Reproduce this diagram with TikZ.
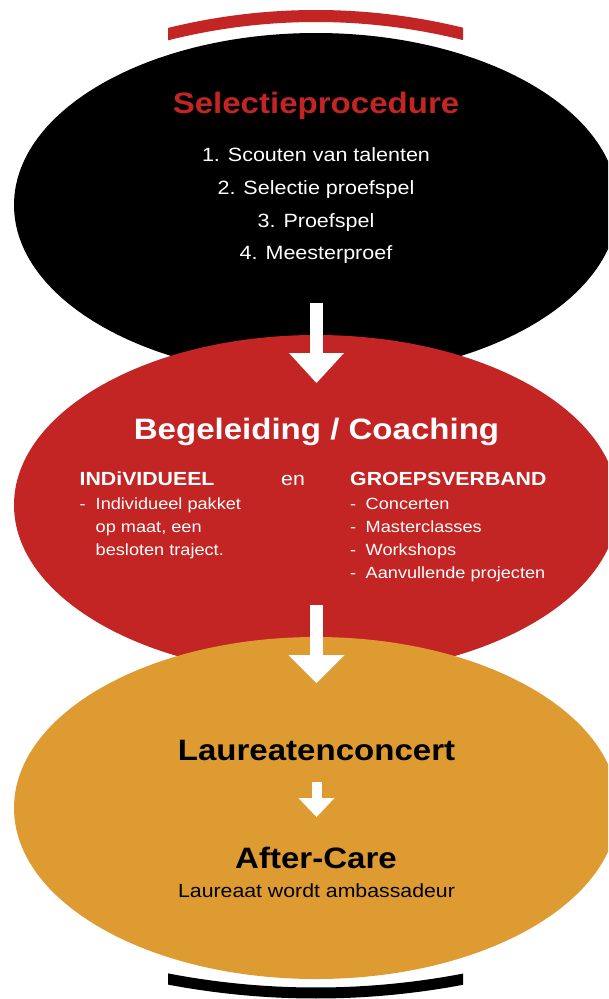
\documentclass[tikz,border=0pt]{standalone}
\usepackage{fontspec}
\setmainfont[FakeStretch=1.12]{Liberation Sans}
\usepackage{xcolor}
\usepackage{tikz}
\usetikzlibrary{shapes.geometric,arrows.meta}

\definecolor{rood}{RGB}{194,37,36}
\definecolor{oranje}{RGB}{222,155,49}

\tikzset{
	ovaal/.style={ellipse, inner sep=0pt, minimum width=604pt, minimum height=344pt},
	blokpijl/.style={white, line width=13pt, -{Triangle[width=55pt,length=30pt,line width=0pt]}},
	kleinpijl/.style={white, line width=10pt, -{Triangle[width=36pt,length=19pt,line width=0pt]}},
	kop/.style={anchor=base, inner sep=0pt, font=\fontsize{29.5}{35}\selectfont\bfseries},
	regel/.style={anchor=base, inner sep=0pt, font=\fontsize{19.2}{23}\selectfont},
	sub/.style={anchor=base west, inner sep=0pt, white, font=\fontsize{19}{23}\selectfont\bfseries},
	lijst/.style={anchor=base west, inner sep=0pt, white, font=\fontsize{16.2}{23.3}\selectfont}
}

\begin{document}
\begin{tikzpicture}[x=1pt,y=-1pt]
		\useasboundingbox (0,0) rectangle (608,999);
		\clip (0,0) rectangle (608,999);
		%
		\node[ovaal, fill=black] (selectie) at (316,205) {};
		\node[ovaal, fill=rood, minimum height=340pt] (begeleiding) at (316,505) {};
		\node[ovaal, fill=oranje, minimum height=342pt] (laureaat) at (316,808) {};
		%
		\begin{scope}
			\clip (168,0) rectangle (463,999);
			\draw[rood, line width=12pt] (316,629) ++(250:613) arc[start angle=250, end angle=290, radius=613];
			\draw[black, line width=11pt] (316,204) ++(75:789) arc[start angle=75, end angle=105, radius=789];
		\end{scope}
		%
		\coordinate (p1a) at (316.5,303);
		\coordinate (p1b) at (316.5,383);
		\coordinate (p2a) at (316.5,605);
		\coordinate (p2b) at (316.5,683);
		\coordinate (p3a) at (316.5,782);
		\coordinate (p3b) at (316.5,817);
		\draw[blokpijl] (p1a) -- (p1b);
		\draw[blokpijl, -{Triangle[width=56pt,length=28pt,line width=0pt]}] (p2a) -- (p2b);
		\draw[kleinpijl] (p3a) -- (p3b);
		%
		\node[kop, rood] (titel) at (316,113) {Selectieprocedure};
		\node[regel, white] (stap1) at (316,161) {1. Scouten van talenten};
		\node[regel, white] (stap2) at (316,194) {2. Selectie proefspel};
		\node[regel, white] (stap3) at (316,227) {3. Proefspel};
		\node[regel, white] (stap4) at (316,259) {4. Meesterproef};
		%
		\node[kop, white] (coaching) at (316.5,439) {Begeleiding / Coaching};
		\node[sub] (individueel) at (79.5,485) {INDiVIDUEEL};
		\node[sub, font=\fontsize{19}{23}\selectfont] (en) at (281,485) {en};
		\node[sub] (groep) at (350,485) {GROEPSVERBAND};
		\node[lijst] (lijstlinks) at (79.5,509) {\begin{tabular}[t]{@{}l@{\hspace{10pt}}l@{}}
			- & Individueel pakket\\
			  & op maat, een\\
			  & besloten traject.
		\end{tabular}};
		\node[lijst] (lijstrechts) at (350,509) {\begin{tabular}[t]{@{}l@{\hspace{9.5pt}}l@{}}
			- & Concerten\\
			- & Masterclasses\\
			- & Workshops\\
			- & Aanvullende projecten
		\end{tabular}};
		%
		\node[kop, black] (concert) at (316.5,760) {Laureatenconcert};
		\node[kop, black] (aftercare) at (316,868) {After-Care};
		\node[regel, black, font=\fontsize{19}{23}\selectfont] (ambassadeur) at (316.5,897) {Laureaat wordt ambassadeur};
	\end{tikzpicture}
\end{document}
